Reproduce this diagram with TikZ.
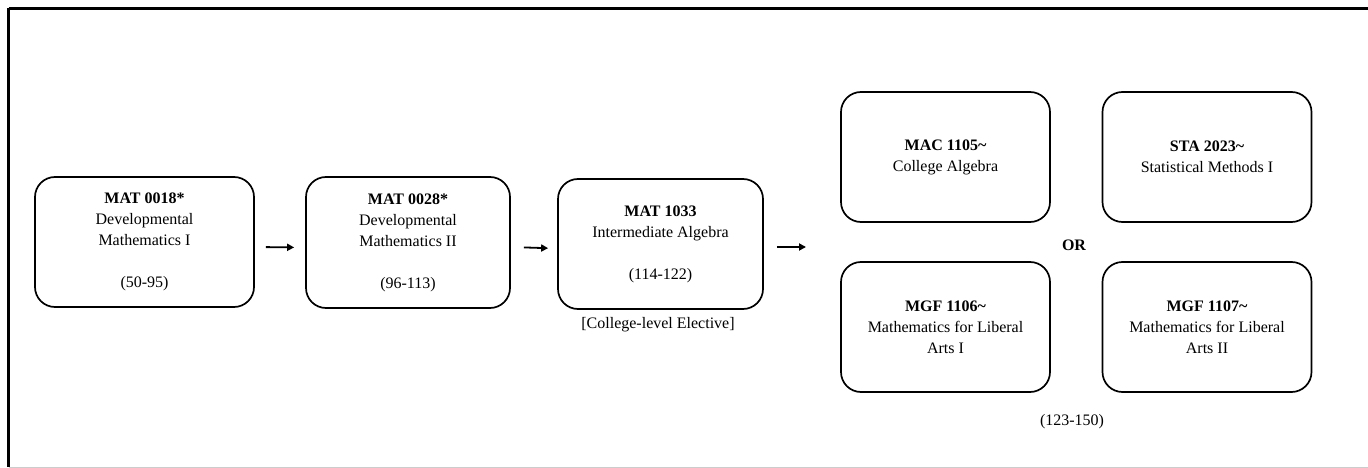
\documentclass[tikz,border=0pt]{standalone}
\usepackage{fontspec}
\setmainfont{Liberation Serif}
\usetikzlibrary{arrows.meta}
\begin{document}
\begin{tikzpicture}[x=1pt,y=-1pt,
  course/.style={draw, line width=1.7pt, rounded corners=20pt, align=center,
    inner sep=0pt, font=\fontsize{16}{21}\selectfont},
  lbl/.style={align=center, inner sep=0pt, font=\fontsize{16}{21}\selectfont},
  arr/.style={-{Triangle[length=7pt,width=7pt]}, line width=1.8pt},
  frame/.style={line width=2.2pt, draw=black}]
\useasboundingbox (0,0) rectangle (1368,468);
% frame
\draw[frame] (8.5,8.5) -- (1368,8.5);
\draw[frame] (8.5,8.5) -- (8.5,467);
\draw[line width=1pt, draw=black!20] (8.5,467) -- (1368,467);
% boxes
\node[course, minimum width=219pt, minimum height=130pt] (b1) at (144.5,242)
  {\textbf{MAT 0018*}\\Developmental\\Mathematics  I\\[21pt](50-95)};
\node[course, minimum width=204pt, minimum height=131pt] (b2) at (408,242.5)
  {\textbf{MAT 0028*}\\Developmental\\Mathematics  II\\[21pt](96-113)};
\node[course, minimum width=205pt, minimum height=130pt] (b3) at (660.5,244)
  {\textbf{MAT 1033}\\Intermediate  Algebra\\[21pt](114-122)};
\node[course, minimum width=209pt, minimum height=130pt] (mac) at (945.5,157)
  {\textbf{MAC 1105\textasciitilde}\\College  Algebra};
\node[course, minimum width=209pt, minimum height=130pt] (sta) at (1207,157)
  {\textbf{STA 2023\textasciitilde}\\Statistical  Methods I};
\node[course, minimum width=209pt, minimum height=130pt] (mgf6) at (945.5,327)
  {\textbf{MGF 1106\textasciitilde}\\Mathematics  for  Liberal\\Arts I};
\node[course, minimum width=209pt, minimum height=130pt] (mgf7) at (1207,327)
  {\textbf{MGF 1107\textasciitilde}\\Mathematics  for  Liberal\\Arts II};
% labels
\node[lbl] (elec) at (658,325) {[College-level  Elective]};
\node[lbl, font=\fontsize{16}{21}\selectfont\bfseries] (or) at (1074,245) {OR};
\node[lbl] (range) at (1072,422) {(123-150)};
\coordinate (a3end) at (806,247);
% arrows
\draw[arr, shorten <=11pt, shorten >=11pt] ([yshift=-5pt]b1.east) -- ([yshift=-5pt]b2.west);
\draw[arr, shorten <=13pt, shorten >=9pt] ([yshift=-4.5pt]b2.east) -- ([yshift=-4.5pt]b3.west);
\draw[arr, shorten <=13pt] ([yshift=-3pt]b3.east) -- (a3end);
\end{tikzpicture}
\end{document}
